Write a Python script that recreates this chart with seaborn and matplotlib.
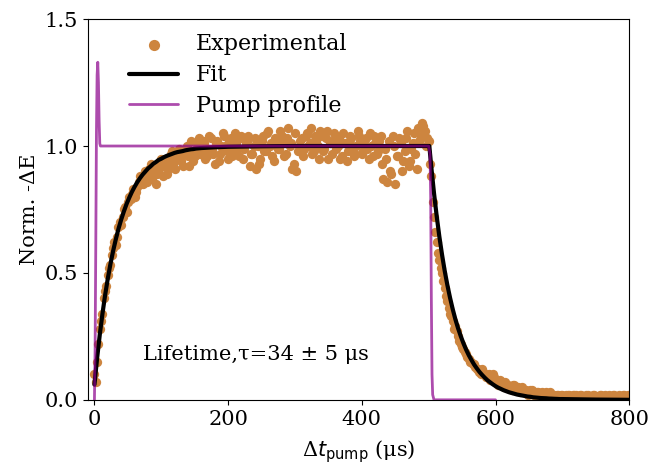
import numpy as np
import matplotlib
matplotlib.use('Agg')
import matplotlib.pyplot as plt
import seaborn as sns

# experimental points, two interleaved sets
exp_t_a = np.arange(2, 800, 4)
exp_y_a = [
    # rise 2..158
    0.07, 0.22, 0.31, 0.40, 0.45, 0.52, 0.57, 0.62, 0.64, 0.70,
    0.72, 0.76, 0.78, 0.79, 0.83, 0.82, 0.86, 0.85, 0.88, 0.86,
    0.91, 0.87, 0.92, 0.89, 0.94, 0.88, 0.95, 0.91, 0.97, 0.93,
    0.96, 0.99, 0.94, 0.97, 1.00, 0.92, 0.98, 0.96, 1.01, 0.97,
    # plateau 162..498
    1.02, 0.95, 0.99, 1.03, 0.97, 1.01, 0.94, 1.00, 1.04, 0.98,
    1.02, 0.96, 1.05, 0.99, 1.03, 0.95, 1.01, 1.04, 0.97, 1.00,
    0.91, 0.93, 1.02, 0.98, 1.05, 1.00, 0.96, 1.03, 0.99, 1.06,
    1.02, 0.97, 1.07, 1.01, 0.93, 0.90, 0.98, 1.03, 0.99, 1.05,
    1.01, 0.97, 1.04, 1.00, 1.06, 0.98, 1.03, 0.95, 1.01, 1.05,
    0.99, 1.03, 0.96, 1.01, 0.94, 1.04, 1.00, 0.97, 1.06, 1.02,
    0.98, 1.03, 0.95, 1.00, 1.04, 0.97, 1.02, 0.93, 0.99, 0.86,
    0.90, 1.04, 0.85, 0.96, 1.01, 0.94, 1.03, 0.92, 0.99, 1.05,
    0.91, 1.02, 1.09, 1.06, 1.03,
    # decay 502..798
    0.93, 0.78, 0.66, 0.58, 0.52, 0.47, 0.41, 0.36, 0.33, 0.28,
    0.27, 0.23, 0.21, 0.19, 0.17, 0.15, 0.14, 0.13, 0.12, 0.10,
    0.11, 0.09, 0.10, 0.08, 0.09, 0.07, 0.08, 0.06, 0.07, 0.06,
    0.05, 0.06, 0.04, 0.05, 0.04, 0.03, 0.04, 0.03, 0.04, 0.02,
    0.03, 0.02, 0.03, 0.02, 0.01, 0.03, 0.02, 0.01, 0.02, 0.02,
    0.01, 0.02, 0.02, 0.01, 0.02, 0.01, 0.02, 0.01, 0.01, 0.02,
    0.01, 0.02, 0.01, 0.01, 0.02, 0.01, 0.01, 0.02, 0.01, 0.02,
    0.01, 0.01, 0.02, 0.01, 0.02,
]
exp_t_b = np.arange(0, 800, 4)
exp_y_b = [
    # rise 0..156
    0.10, 0.15, 0.28, 0.34, 0.43, 0.49, 0.53, 0.60, 0.61, 0.68,
    0.69, 0.75, 0.74, 0.80, 0.81, 0.80, 0.84, 0.88, 0.85, 0.90,
    0.88, 0.93, 0.90, 0.85, 0.91, 0.95, 0.92, 0.89, 0.94, 0.98,
    0.91, 0.95, 0.97, 0.92, 0.99, 0.96, 1.02, 0.94, 0.99, 1.03,
    # plateau 160..496
    0.98, 1.01, 0.96, 1.04, 0.99, 0.93, 1.02, 0.97, 1.05, 1.00,
    0.95, 1.03, 0.98, 1.01, 0.96, 1.04, 0.99, 1.02, 0.92, 0.97,
    1.03, 1.00, 0.95, 1.04, 0.98, 1.06, 1.01, 0.94, 1.02, 0.99,
    1.04, 0.96, 1.03, 1.00, 0.91, 1.05, 0.98, 1.02, 0.96, 1.04,
    1.00, 1.07, 0.98, 1.02, 0.95, 1.04, 0.99, 1.06, 1.01, 0.97,
    1.03, 1.00, 0.95, 1.05, 1.01, 0.98, 1.03, 0.96, 1.00, 1.04,
    0.97, 1.02, 0.99, 1.05, 0.96, 1.01, 0.98, 1.04, 0.87, 0.95,
    1.02, 0.89, 1.00, 0.96, 1.03, 0.90, 0.98, 1.06, 0.94, 1.01,
    0.97, 1.07, 1.04, 1.08, 1.00,
    # decay 500..796
    1.02, 0.88, 0.72, 0.62, 0.55, 0.50, 0.44, 0.39, 0.34, 0.31,
    0.29, 0.25, 0.22, 0.20, 0.18, 0.16, 0.15, 0.14, 0.12, 0.11,
    0.12, 0.10, 0.09, 0.08, 0.10, 0.07, 0.06, 0.07, 0.05, 0.06,
    0.05, 0.04, 0.06, 0.04, 0.03, 0.05, 0.03, 0.02, 0.04, 0.03,
    0.02, 0.03, 0.01, 0.02, 0.03, 0.02, 0.01, 0.02, 0.02, 0.01,
    0.02, 0.01, 0.02, 0.01, 0.02, 0.02, 0.01, 0.02, 0.01, 0.02,
    0.01, 0.01, 0.02, 0.01, 0.02, 0.01, 0.02, 0.01, 0.01, 0.02,
    0.01, 0.02, 0.01, 0.02, 0.01,
]
exp_t = np.concatenate([exp_t_a, exp_t_b])
exp_y = np.concatenate([exp_y_a, exp_y_b])

# fit curve
fit_t = list(range(0, 161, 4)) + [180, 200, 250, 300, 400, 500, 501] \
    + list(range(504, 701, 4)) + [750, 800]
fit_y = [
    0.06, 0.164, 0.257, 0.339, 0.413, 0.478, 0.536, 0.587, 0.633, 0.674,
    0.710, 0.742, 0.771, 0.796, 0.819, 0.839, 0.857, 0.873, 0.887, 0.899,
    0.911, 0.920, 0.930, 0.937, 0.945, 0.950, 0.956, 0.961, 0.965, 0.969,
    0.973, 0.976, 0.978, 0.980, 0.983, 0.985, 0.987, 0.988, 0.990, 0.991,
    0.992,
    0.995, 0.997, 0.999, 1.0, 1.0, 1.0, 1.0,
    0.916, 0.814, 0.724, 0.643, 0.572, 0.508, 0.452, 0.402, 0.357, 0.317,
    0.282, 0.251, 0.223, 0.198, 0.176, 0.157, 0.139, 0.124, 0.110, 0.098,
    0.087, 0.077, 0.069, 0.061, 0.054, 0.048, 0.043, 0.038, 0.034, 0.030,
    0.027, 0.024, 0.021, 0.019, 0.017, 0.015, 0.013, 0.012, 0.010, 0.009,
    0.008, 0.007, 0.0065, 0.006, 0.005, 0.0046, 0.004, 0.0036, 0.003, 0.003,
    0.001, 0.0,
]

# pump profile
pump_t = [0, 1, 2, 3, 4, 5, 6, 7, 8, 9, 500, 502, 503, 504, 505, 506, 508, 600]
pump_y = [0.0, 0.2, 0.6, 1.05, 1.28, 1.33, 1.25, 1.1, 1.01, 1.0,
          1.0, 0.97, 0.8, 0.4, 0.1, 0.02, 0.0, 0.0]

sns.set_style('ticks')
plt.rcParams['font.family'] = ['DejaVu Serif']
plt.rcParams['mathtext.fontset'] = 'dejavusans'
plt.rcParams['text.color'] = 'black'
plt.rcParams['axes.labelcolor'] = 'black'
plt.rcParams['xtick.color'] = 'black'
plt.rcParams['ytick.color'] = 'black'

fig, ax = plt.subplots(figsize=(6.5, 4.66), dpi=100)
fig.subplots_adjust(left=0.135, right=0.968, bottom=0.142, top=0.959)

sns.scatterplot(x=exp_t, y=exp_y, color='peru', s=45, linewidth=0,
                label='Experimental', ax=ax, zorder=1)
sns.lineplot(x=fit_t, y=fit_y, color='black', lw=3, label='Fit', ax=ax, zorder=2)
sns.lineplot(x=pump_t, y=pump_y, color='darkmagenta', alpha=0.7, lw=2,
             label='Pump profile', ax=ax, zorder=3)

ax.set_xlim(-10, 800)
ax.set_ylim(0, 1.5)
ax.set_xticks([0, 200, 400, 600, 800])
ax.set_yticks([0.0, 0.5, 1.0, 1.5])
ax.tick_params(labelsize=15)
for s in ax.spines.values():
    s.set_color('black')

ax.set_xlabel('Δ$t_{\\mathrm{pump}}$ (μs)', fontsize=15, labelpad=7)
ax.set_ylabel('Norm. -ΔE', fontsize=15)
ax.text(72, 0.18, 'Lifetime,τ=34 ± 5 μs', fontsize=15, va='center')

ax.legend(loc='upper left', bbox_to_anchor=(0.04, 1.015), frameon=False,
          fontsize=16, handlelength=2.2, markerscale=1.2, labelspacing=0.4)

plt.savefig('out.png', dpi=100)
plt.close()
